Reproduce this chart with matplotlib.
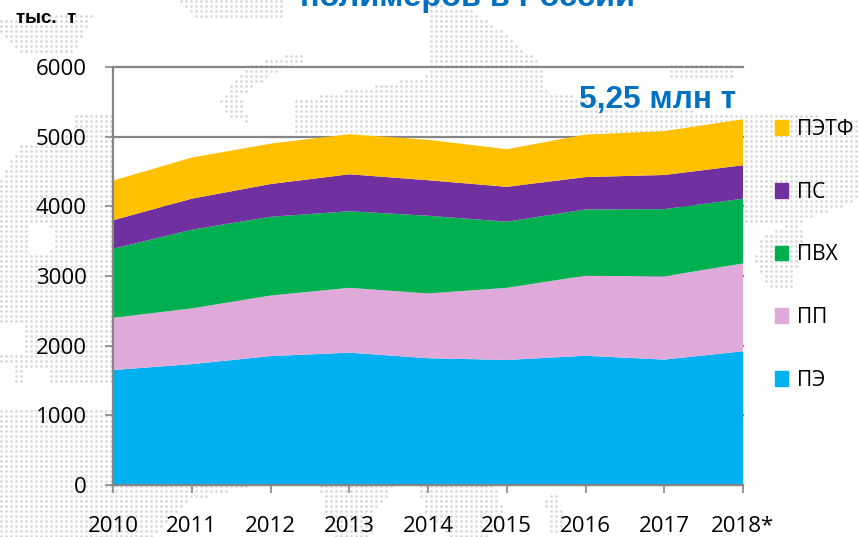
#!/usr/bin/env python3
"""Производство полимеров в России, 2010-2018: диаграмма с областями."""

import matplotlib
matplotlib.use("Agg")
import matplotlib.pyplot as plt
import numpy as np
from matplotlib.patches import Patch
from matplotlib.path import Path

W, H = 858, 537

years = ["2010", "2011", "2012", "2013", "2014", "2015", "2016", "2017", "2018*"]
labels = ["ПЭ", "ПП", "ПВХ", "ПС", "ПЭТФ"]
colors = ["#00B0F0", "#DFA9DA", "#00B050", "#7030A0", "#FFC000"]

pe = [1650, 1735, 1850, 1900, 1820, 1795, 1855, 1800, 1920]
pp = [750, 800, 870, 930, 930, 1035, 1150, 1195, 1260]
pvc = [990, 1130, 1130, 1100, 1115, 950, 950, 965, 930]
ps = [410, 445, 470, 530, 510, 500, 465, 490, 480]
petf = [570, 590, 580, 575, 580, 540, 610, 630, 660]

# контуры точечной карты на фоне, в пикселях картинки
map_shapes = [
    [(0, 18), (55, 12), (92, 14), (72, 55), (20, 52), (0, 35)],
    [(178, -2), (285, -2), (285, 17), (195, 17)],
    [(220, 100), (240, 72), (258, 62), (305, 50), (305, 62), (275, 72), (240, 95), (250, 122), (228, 118)],
    [(292, 130), (295, 100), (340, 92), (430, 75), (430, 5), (470, 8), (500, 30), (530, 55), (540, 65),
     (545, 90), (640, 110), (745, 112), (858, 118), (858, 200), (800, 222), (745, 222), (745, 135), (292, 135)],
    [(665, 62), (730, 62), (735, 78), (670, 78)],
    [(758, 240), (790, 222), (806, 232), (790, 290), (768, 290), (755, 262)],
    [(0, 180), (20, 145), (70, 135), (75, 116), (113, 112), (113, 385), (0, 385)],
    [(0, 410), (113, 410), (113, 537), (0, 537)],
    [(113, 485), (250, 485), (190, 500), (155, 537), (113, 537)],
    [(320, 485), (395, 485), (375, 510), (370, 537), (335, 537), (322, 505)],
    [(420, 485), (495, 485), (505, 512), (490, 537), (450, 537), (422, 510)],
    [(545, 500), (560, 490), (562, 532), (550, 532)],
]
map_holes = [
    [(30, 225), (50, 222), (55, 250), (30, 255)],
    [(0, 325), (25, 325), (25, 355), (0, 355)],
    [(0, 365), (12, 365), (12, 385), (0, 385)],
    [(25, 370), (46, 370), (46, 385), (25, 385)],
]


def draw_map(fig):
    """Серая точечная подложка во весь кадр."""
    bg = fig.add_axes([0, 0, 1, 1], zorder=0)
    bg.set_xlim(0, W)
    bg.set_ylim(H, 0)
    bg.axis("off")
    gx, gy = np.meshgrid(np.arange(1, W, 5), np.arange(1, H, 5))
    pts = np.column_stack([gx.ravel(), gy.ravel()])
    keep = np.zeros(len(pts), dtype=bool)
    for shape in map_shapes:
        keep |= Path(shape + [shape[0]]).contains_points(pts)
    for hole in map_holes:
        keep &= ~Path(hole + [hole[0]]).contains_points(pts)
    bg.scatter(pts[keep, 0], pts[keep, 1], s=4, color="#D8D8D8", linewidths=0, marker="o")


fig = plt.figure(figsize=(W / 100, H / 100), dpi=100, facecolor="white")
draw_map(fig)

ax = fig.add_axes([113 / W, 1 - 485 / H, 630 / W, 418 / H], zorder=1)
ax.patch.set_alpha(0)
x = np.arange(len(years))
ax.stackplot(x, pe, pp, pvc, ps, petf, colors=colors, zorder=3)

ax.set_xlim(0, len(years) - 1)
ax.set_ylim(0, 6000)
ax.set_yticks(range(0, 6001, 1000))
ax.set_xticks(x, years)
ax.grid(True, axis="y", color="#868686", linewidth=1.6, zorder=1, clip_on=False)
ax.set_axisbelow(True)
for side in ["top", "right"]:
    ax.spines[side].set_visible(False)
for side in ["left", "bottom"]:
    ax.spines[side].set_color("#868686")
    ax.spines[side].set_linewidth(1.6)
    ax.spines[side].set_zorder(4)
ax.tick_params(axis="both", length=6, width=1.2, color="#868686", labelsize=16, labelcolor="black")
ax.tick_params(axis="y", pad=13)
ax.tick_params(axis="x", pad=16)
for t in ax.get_xticklabels() + ax.get_yticklabels():
    t.set_family("Open Sans")

handles = [Patch(color=c, label=l) for c, l in zip(colors, labels)][::-1]
ax.legend(handles=handles, loc="upper left", bbox_to_anchor=(775 / W, 1 - 119 / H),
          bbox_transform=fig.transFigure, frameon=False, prop={"family": "Open Sans", "size": 15},
          handlelength=0.62, handleheight=0.72, handletextpad=0.43, labelspacing=2.0, borderpad=0, borderaxespad=0)

fig.text(468 / W, 1 - 6 / H, "полимеров в России", color="#0070C0", fontsize=23.4, fontweight="bold",
         family="Liberation Sans", ha="center", va="baseline")
fig.text(16 / W, 1 - 23 / H, "тыс.  т", color="black", fontsize=13.5, fontweight="bold",
         family="Liberation Sans", ha="left", va="baseline")
fig.text(736 / W, 1 - 108 / H, "5,25 млн т", color="#0070C0", fontsize=22.7, fontweight="bold",
         family="Liberation Sans", ha="right", va="baseline", zorder=5)

fig.savefig("out.png", dpi=100)
